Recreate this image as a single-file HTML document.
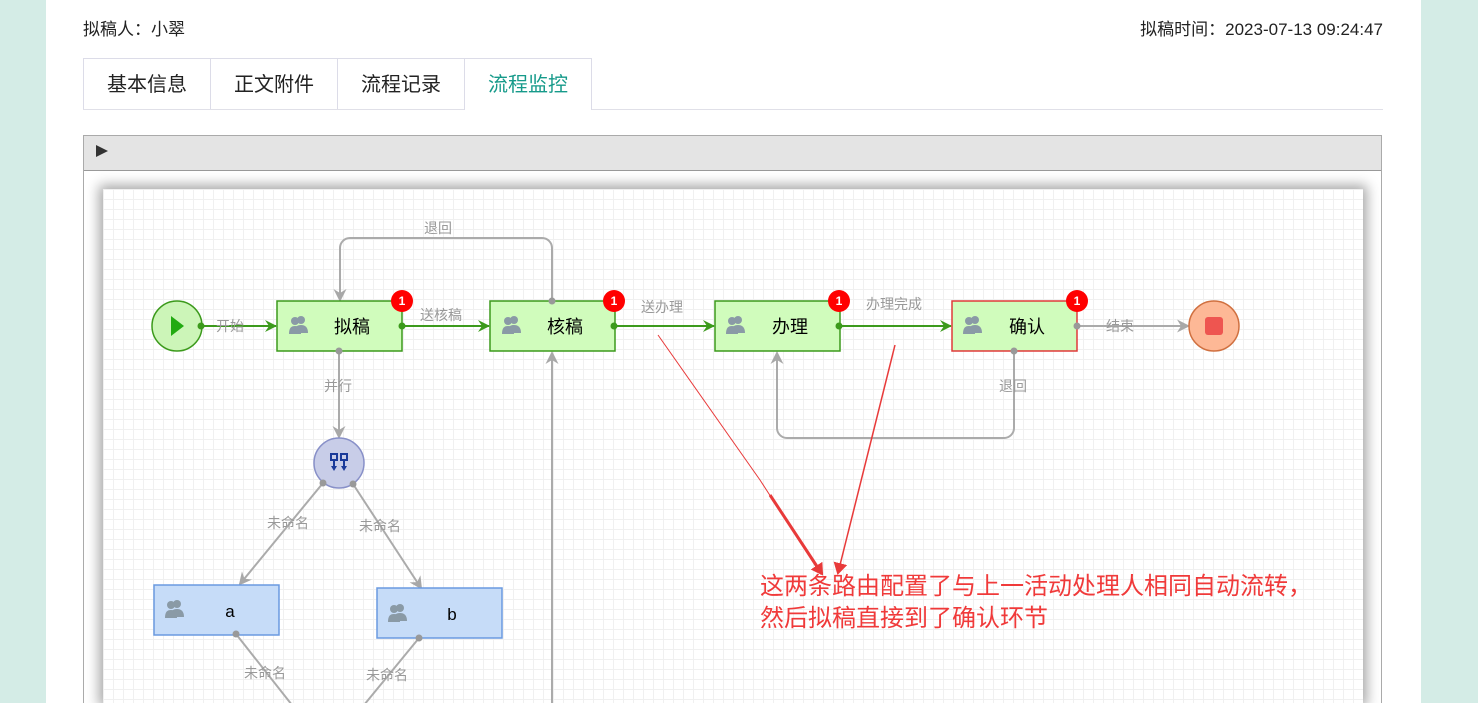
<!DOCTYPE html><html><head><meta charset="utf-8"><style>
html,body{margin:0;width:1478px;height:703px;overflow:hidden}
body{background:#d4ece6;font-family:"Liberation Sans","Noto Sans CJK SC",sans-serif;position:relative}
.main{position:absolute;left:46px;top:0;width:1375px;height:703px;background:#fff}
.t{position:absolute;font-size:17px;color:#222}
.tabs{position:absolute;left:83px;top:58px;height:51px;width:1300px;border-bottom:1px solid #e0e0e8}
.tab{position:absolute;top:0;height:50px;border:1px solid #dcdce8;border-bottom:none;font-size:20px;line-height:52px;text-align:center;color:#222;background:#fff}
</style></head><body>
<div class="main"></div>
<div class="t" style="left:83px;top:15px">拟稿人：小翠</div>
<div class="t" style="right:95px;top:15px">拟稿时间：2023-07-13 09:24:47</div>
<div class="tabs">
<div class="tab" style="left:0;width:126px">基本信息</div>
<div class="tab" style="left:127px;width:126px">正文附件</div>
<div class="tab" style="left:254px;width:126px">流程记录</div>
<div class="tab" style="left:381px;width:126px;color:#169a8a;height:51px">流程监控</div>
</div>
<div style="position:absolute;left:83px;top:135px;width:1297px;height:600px;border:1px solid #aaa;background:#fff"></div>
<div style="position:absolute;left:84px;top:136px;width:1297px;height:34px;background:#e4e4e4;border-bottom:1px solid #999"></div>
<div style="position:absolute;left:96px;top:145px;width:0;height:0;border-left:12px solid #333;border-top:6px solid transparent;border-bottom:6px solid transparent"></div>
<div style="position:absolute;left:103px;top:189px;width:1260px;height:514px;background-color:#fff;box-shadow:0 0 12px 4px rgba(0,0,0,.35);background-image:linear-gradient(90deg,#f0f0f0 1px,transparent 1px),linear-gradient(#f0f0f0 1px,transparent 1px);background-size:10px 10px"></div>
<svg style="position:absolute;left:0;top:0" width="1478" height="703" font-family="Liberation Sans,Noto Sans CJK SC,sans-serif">
<defs>
<marker id="g" markerWidth="12" markerHeight="12" refX="11" refY="6" orient="auto" markerUnits="userSpaceOnUse" viewBox="0 0 12 12"><path d="M0,0L12,6L0,12L4,6z" fill="#3c9a1c"/></marker>
<marker id="h" markerWidth="13" markerHeight="13" refX="11" refY="6.5" orient="auto" markerUnits="userSpaceOnUse" viewBox="0 0 13 13"><path d="M0,0L13,6.5L0,13L4,6.5z" fill="#a8a8a8"/></marker>
<marker id="r" markerWidth="12" markerHeight="14" refX="10" refY="7" orient="auto" markerUnits="userSpaceOnUse" viewBox="0 0 12 14"><path d="M0,0L12,7L0,14z" fill="#e83a3a"/></marker>
</defs>
<g stroke="#3c9a1c" stroke-width="2" fill="none">
<line x1="201" y1="326" x2="276" y2="326" marker-end="url(#g)"/>
<line x1="402" y1="326" x2="489" y2="326" marker-end="url(#g)"/>
<line x1="614" y1="326" x2="714" y2="326" marker-end="url(#g)"/>
<line x1="839" y1="326" x2="951" y2="326" marker-end="url(#g)"/>
</g>
<g stroke="#ababab" stroke-width="2" fill="none">
<line x1="1077" y1="326" x2="1188" y2="326" marker-end="url(#h)"/>
<path d="M552,301V248a10,10 0 0 0 -10,-10H350a10,10 0 0 0 -10,10V300" marker-end="url(#h)"/>
<line x1="339" y1="351" x2="339" y2="437" marker-end="url(#h)"/>
<path d="M1014,351V428a10,10 0 0 1 -10,10H787a10,10 0 0 1 -10,-10V353" marker-end="url(#h)"/>
<line x1="552" y1="710" x2="552" y2="353" marker-end="url(#h)"/>
<line x1="323" y1="483" x2="240" y2="584" marker-end="url(#h)"/>
<line x1="353" y1="484" x2="421" y2="588" marker-end="url(#h)"/>
<line x1="236" y1="634" x2="292" y2="705"/>
<line x1="419" y1="638" x2="364" y2="705"/>
</g>
<g fill="#999" font-size="14">
<text x="216" y="331">开始</text><text x="420" y="320">送核稿</text><text x="641" y="312">送办理</text><text x="866" y="309">办理完成</text>
<text x="1106" y="331">结束</text><text x="424" y="233">退回</text><text x="999" y="391">退回</text><text x="324" y="391">并行</text>
<text x="267" y="528">未命名</text><text x="359" y="531">未命名</text><text x="244" y="678">未命名</text><text x="366" y="680">未命名</text>
</g>
<circle cx="177" cy="326" r="25" fill="#ccf5b8" stroke="#3c9a1c" stroke-width="1.5"/>
<path d="M171,316L184,326L171,336z" fill="#22aa11"/>
<circle cx="1214" cy="326" r="25" fill="#fdb896" stroke="#d07040" stroke-width="1.5"/>
<rect x="1205" y="317" width="18" height="18" rx="3" fill="#ee5550"/>
<circle cx="339" cy="463" r="25" fill="#c8cde8" stroke="#8890c8" stroke-width="1.5"/>
<g fill="#1a3a9a"><rect x="331" y="454" width="6" height="6" fill="none" stroke="#1a3a9a" stroke-width="2"/><rect x="341" y="454" width="6" height="6" fill="none" stroke="#1a3a9a" stroke-width="2"/><path d="M331,466h6l-3,5z M341,466h6l-3,5z"/><rect x="333" y="460" width="2" height="6"/><rect x="343" y="460" width="2" height="6"/></g>
<g stroke-width="1.5">
<rect x="277" y="301" width="125" height="50" fill="#d0fcbc" stroke="#3c9a1c"/>
<rect x="490" y="301" width="125" height="50" fill="#d0fcbc" stroke="#3c9a1c"/>
<rect x="715" y="301" width="125" height="50" fill="#d0fcbc" stroke="#3c9a1c"/>
<rect x="952" y="301" width="125" height="50" fill="#d0fcbc" stroke="#e03a3a"/>
<rect x="154" y="585" width="125" height="50" fill="#c6dcf8" stroke="#6a9ae0"/>
<rect x="377" y="588" width="125" height="50" fill="#c6dcf8" stroke="#6a9ae0"/>
</g>
<g fill="#000" font-size="18" text-anchor="middle">
<text x="352" y="333">拟稿</text><text x="565" y="333">核稿</text><text x="790" y="333">办理</text><text x="1027" y="333">确认</text>
<text x="230" y="617" font-size="17">a</text><text x="452" y="620" font-size="17">b</text>
</g>
<g fill="#8a9aa6">
<g transform="translate(289,316)"><circle cx="12" cy="4" r="4"/><path d="M5,17c0-6 3-8 7-8s7,2 7,8z"/><circle cx="6" cy="5" r="4"/><path d="M0,18c0-6 2-8 6-8s6,2 6,8z"/></g>
<g transform="translate(502,316)"><circle cx="12" cy="4" r="4"/><path d="M5,17c0-6 3-8 7-8s7,2 7,8z"/><circle cx="6" cy="5" r="4"/><path d="M0,18c0-6 2-8 6-8s6,2 6,8z"/></g>
<g transform="translate(726,316)"><circle cx="12" cy="4" r="4"/><path d="M5,17c0-6 3-8 7-8s7,2 7,8z"/><circle cx="6" cy="5" r="4"/><path d="M0,18c0-6 2-8 6-8s6,2 6,8z"/></g>
<g transform="translate(963,316)"><circle cx="12" cy="4" r="4"/><path d="M5,17c0-6 3-8 7-8s7,2 7,8z"/><circle cx="6" cy="5" r="4"/><path d="M0,18c0-6 2-8 6-8s6,2 6,8z"/></g>
<g transform="translate(165,600)"><circle cx="12" cy="4" r="4"/><path d="M5,17c0-6 3-8 7-8s7,2 7,8z"/><circle cx="6" cy="5" r="4"/><path d="M0,18c0-6 2-8 6-8s6,2 6,8z"/></g>
<g transform="translate(388,604)"><circle cx="12" cy="4" r="4"/><path d="M5,17c0-6 3-8 7-8s7,2 7,8z"/><circle cx="6" cy="5" r="4"/><path d="M0,18c0-6 2-8 6-8s6,2 6,8z"/></g>
</g>
<g fill="#f00"><circle cx="402" cy="301" r="11"/><circle cx="614" cy="301" r="11"/><circle cx="839" cy="301" r="11"/><circle cx="1077" cy="301" r="11"/></g>
<g fill="#fff" font-size="12" font-weight="bold" text-anchor="middle"><text x="402" y="305">1</text><text x="614" y="305">1</text><text x="839" y="305">1</text><text x="1077" y="305">1</text></g>
<g fill="#3c9a1c"><circle cx="201" cy="326" r="3.5"/><circle cx="402" cy="326" r="3.5"/><circle cx="614" cy="326" r="3.5"/><circle cx="839" cy="326" r="3.5"/></g>
<g fill="#999"><circle cx="1077" cy="326" r="3.5"/><circle cx="552" cy="301" r="3.5"/><circle cx="339" cy="351" r="3.5"/><circle cx="1014" cy="351" r="3.5"/><circle cx="323" cy="483" r="3.5"/><circle cx="353" cy="484" r="3.5"/><circle cx="236" cy="634" r="3.5"/><circle cx="419" cy="638" r="3.5"/></g>
<g stroke="#e83a3a" fill="none">
<path d="M658,335L760,480L820,573" stroke-width="1"/>
<line x1="770" y1="495" x2="822" y2="574" stroke-width="3" marker-end="url(#r)"/>
<line x1="895" y1="345" x2="838" y2="573" stroke-width="1.5" marker-end="url(#r)"/>
</g>
<g fill="#f03a3a" font-size="24"><text x="760" y="594">这两条路由配置了与上一活动处理人相同自动流转，</text><text x="760" y="626">然后拟稿直接到了确认环节</text></g>
</svg>
</body></html>
